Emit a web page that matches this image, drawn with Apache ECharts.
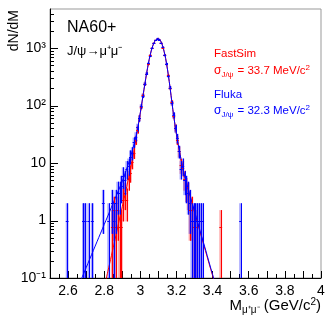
<!DOCTYPE html>
<html>
<head>
<meta charset="utf-8">
<script src="https://cdn.jsdelivr.net/npm/echarts@6/dist/echarts.min.js"></script>
<style>
  html, body { margin: 0; padding: 0; background: #fff; }
  #chart { width: 332px; height: 320px; }
</style>
</head>
<body>
<div id="chart"></div>
<script>
  // histogram bins, 10 MeV wide, given by their centre (GeV/c^2)
  const binWidth = 0.01;

  const flukaMass = [2.595, 2.685, 2.695, 2.715, 2.735, 2.795, 2.825, 2.845, 2.855, 2.865,
    2.875, 2.885, 2.895, 2.905, 2.915, 2.925, 2.935, 2.945, 2.955, 2.965, 2.975, 2.985, 2.995,
    3.005, 3.015, 3.025, 3.035, 3.045, 3.055, 3.065, 3.075, 3.085, 3.095, 3.105, 3.115, 3.125,
    3.135, 3.145, 3.155, 3.165, 3.175, 3.185, 3.195, 3.205, 3.215, 3.225, 3.235, 3.245, 3.255,
    3.265, 3.275, 3.285, 3.295, 3.305, 3.315, 3.325, 3.335, 3.345, 3.555];
  const flukaCounts = [1, 1, 1, 1, 1, 2, 1, 2, 1, 2,
    3, 3, 4, 6, 5, 8, 9, 13, 15, 23, 29, 42, 60,
    97, 148, 240, 362, 545, 742, 1010, 1225, 1390, 1470, 1405, 1230, 1030,
    750, 530, 325, 205, 110, 68, 40, 27, 16, 8, 9, 5, 4,
    3, 2, 1, 1, 1, 1, 1, 1, 1, 1];

  const fastSimMass = [2.845, 2.855, 2.865, 2.875, 2.885, 2.895, 2.905, 2.915, 2.925, 2.935,
    2.945, 2.955, 2.965, 2.975, 2.985, 2.995, 3.005, 3.015, 3.025, 3.035, 3.045, 3.055, 3.065,
    3.075, 3.085, 3.095, 3.105, 3.115, 3.125, 3.135, 3.145, 3.155, 3.165, 3.175, 3.185, 3.195,
    3.205, 3.215, 3.225, 3.235, 3.245, 3.255, 3.265, 3.275, 3.285, 3.295, 3.305, 3.445];
  const fastSimCounts = [1, 2, 1, 2, 1, 1, 3, 4, 3, 7,
    9, 14, 20, 33, 50, 80, 125, 200, 310, 470, 690, 985, 1310,
    1600, 1810, 1925, 1840, 1630, 1350, 995, 690, 440, 265, 150, 88, 54,
    33, 21, 12, 11, 7, 5, 4, 2, 2, 1, 1, 1];
  const fastSimScale = 0.76; // FastSim normalised to the Fluka yield

  // fitted line shapes
  const flukaFitX = [2.66, 2.68, 2.70, 2.72, 2.74, 2.76, 2.78, 2.80, 2.82, 2.84, 2.86, 2.88,
    2.90, 2.92, 2.94, 2.96, 2.98, 3.00, 3.02, 3.04, 3.06, 3.08, 3.10, 3.12, 3.14, 3.16, 3.18,
    3.20, 3.22, 3.24, 3.26, 3.28, 3.30, 3.32, 3.34, 3.36, 3.38, 3.40, 3.42];
  const flukaFitY = [0.076, 0.107, 0.151, 0.214, 0.302, 0.427, 0.603, 0.851, 1.20, 1.70, 2.40, 3.39,
    4.79, 7.24, 11.2, 18.6, 33.1, 75.9, 191, 457, 891, 1318, 1479, 1175, 661, 263, 85,
    31.6, 14.1, 6.92, 3.98, 2.40, 1.45, 0.87, 0.52, 0.32, 0.19, 0.115, 0.069];

  const fastSimFitX = [2.80, 2.82, 2.84, 2.86, 2.88, 2.90, 2.92, 2.94, 2.96, 2.98, 3.00, 3.02,
    3.04, 3.06, 3.08, 3.10, 3.12, 3.14, 3.16, 3.18, 3.20, 3.22, 3.24, 3.26, 3.28, 3.30, 3.32,
    3.34, 3.36, 3.38, 3.40, 3.42];
  const fastSimFitY = [0.068, 0.129, 0.245, 0.468, 0.912, 1.74, 3.31, 6.61, 13.2, 31.6, 74.1, 186,
    447, 891, 1318, 1479, 1175, 661, 263, 85, 31.6, 14.1, 7.08, 3.98, 2.34, 1.38, 0.83,
    0.50, 0.30, 0.18, 0.11, 0.066];

  const yMajorTicks = [0.1, 1, 10, 100, 1000];
  const yMinorTicks = [0.2, 0.3, 0.4, 0.5, 0.6, 0.7, 0.8, 0.9,
    2, 3, 4, 5, 6, 7, 8, 9, 20, 30, 40, 50, 60, 70, 80, 90,
    200, 300, 400, 500, 600, 700, 800, 900, 2000, 3000, 4000];
  const yLabels = { 0.1: '10⁻¹', 1: '1', 10: '10', 100: '10²', 1000: '10³' };

  const font = 'Liberation Sans';

  function points(mass, counts, scale) {
    return mass.map((m, i) => {
      const n = counts[i];
      const e = Math.sqrt(n) * scale;
      return [m, n * scale, Math.max(n * scale - e, 0.001), n * scale + e];
    });
  }
  const fluka = points(flukaMass, flukaCounts, 1);
  const fastSim = points(fastSimMass, fastSimCounts, fastSimScale);

  const px = v => Math.round(v) + 0.5;

  function errorBars(color) {
    return function (params, api) {
      const x = api.value(0), y = api.value(1);
      const top = api.coord([x, api.value(3)]);
      const bot = api.coord([x, api.value(2)]);
      const l = api.coord([x - binWidth / 2, y]);
      const r = api.coord([x + binWidth / 2, y]);
      return {
        type: 'group',
        children: [
          { type: 'line', shape: { x1: px(top[0]), y1: top[1], x2: px(bot[0]), y2: bot[1] },
            style: { stroke: color, lineWidth: 1 } },
          { type: 'line', shape: { x1: l[0] - 0.5, y1: px(l[1]), x2: r[0] + 0.5, y2: px(r[1]) },
            style: { stroke: color, lineWidth: 1 } }
        ]
      };
    };
  }

  function errorBoxes(color) {
    return function (params, api) {
      const x = api.value(0);
      const a = api.coord([x - binWidth / 2, api.value(3)]);
      const b = api.coord([x + binWidth / 2, api.value(2)]);
      return {
        type: 'rect',
        shape: { x: a[0] - 0.5, y: a[1], width: b[0] - a[0] + 1, height: b[1] - a[1] },
        style: { fill: color }
      };
    };
  }

  function yTicks(len) {
    return function (params, api) {
      const p = api.coord([2.5, api.value(0)]);
      return { type: 'line', shape: { x1: p[0], y1: px(p[1]), x2: p[0] + len, y2: px(p[1]) },
        style: { stroke: '#000', lineWidth: 1 } };
    };
  }

  const chart = echarts.init(document.getElementById('chart'), null, { renderer: 'canvas' });

  chart.setOption({
    animation: false,
    backgroundColor: '#fff',
    grid: { left: 50, right: 11, top: 9, bottom: 42, show: true, borderColor: '#999', borderWidth: 1 },
    xAxis: {
      type: 'value', min: 2.5, max: 4, interval: 0.1,
      axisLine: { lineStyle: { color: '#000', width: 1 } },
      axisTick: { inside: true, length: 7, lineStyle: { color: '#000' } },
      minorTick: { show: true, splitNumber: 2, length: 4, lineStyle: { color: '#000' } },
      splitLine: { show: false },
      axisLabel: {
        margin: 6, color: '#000', fontFamily: font, fontSize: 14,
        formatter: v => (Math.round(v * 10) % 2 === 0 ? String(+v.toFixed(1)) : '')
      }
    },
    yAxis: {
      type: 'log', logBase: 10, min: 0.1, max: 4800,
      axisLine: { lineStyle: { color: '#000', width: 1 } },
      axisTick: { show: false },
      splitLine: { show: false },
      axisLabel: {
        margin: 4, color: '#000', fontFamily: font, fontSize: 14,
        formatter: v => yLabels[+v.toPrecision(3)] || ''
      }
    },
    series: [
      { type: 'custom', clip: true, data: fastSim, renderItem: errorBoxes('rgba(255,0,0,0.35)'), z: 1 },
      { type: 'custom', clip: true, data: fluka, renderItem: errorBoxes('rgba(0,0,255,0.35)'), z: 1 },
      { type: 'line', data: fastSimFitX.map((x, i) => [x, fastSimFitY[i]]), showSymbol: false,
        smooth: 0.3, clip: true, lineStyle: { color: '#ff0000', width: 1 }, z: 2 },
      { type: 'line', data: flukaFitX.map((x, i) => [x, flukaFitY[i]]), showSymbol: false,
        smooth: 0.3, clip: true, lineStyle: { color: '#0000ff', width: 1 }, z: 2 },
      { type: 'custom', clip: true, data: fastSim, renderItem: errorBars('#ff0000'), z: 3 },
      { type: 'custom', clip: true, data: fluka, renderItem: errorBars('#0000ff'), z: 3 },
      { type: 'custom', data: yMajorTicks.map(v => [v]), renderItem: yTicks(8), z: 4 },
      { type: 'custom', data: yMinorTicks.map(v => [v]), renderItem: yTicks(4), z: 4 }
    ],
    graphic: [
      { type: 'text', x: 14, y: 10, rotation: Math.PI / 2,
        style: { text: 'dN/dM', font: '14px ' + font, fill: '#000', align: 'right', verticalAlign: 'middle' } },
      { type: 'text', x: 67, y: 28,
        style: { text: 'NA60+', font: '16px ' + font, fill: '#000', verticalAlign: 'middle' } },
      { type: 'text', x: 67, y: 51,
        style: { text: 'J/ψ→μ⁺μ⁻', font: '13px ' + font, fill: '#000', verticalAlign: 'middle' } },
      { type: 'text', x: 214, y: 54,
        style: { text: 'FastSim', font: '11.5px ' + font, fill: '#ff0000', verticalAlign: 'middle' } },
      { type: 'text', x: 214, y: 71,
        style: {
          text: '{s|σ}{sub|J/ψ}{n| = 33.7 MeV/c}{sup|2}', fill: '#ff0000', verticalAlign: 'middle',
          rich: {
            s: { fontFamily: font, fontSize: 12, fill: '#ff0000' },
            sub: { fontFamily: font, fontSize: 8, fill: '#ff0000', padding: [7, 1, 0, 0] },
            n: { fontFamily: font, fontSize: 11.5, fill: '#ff0000' },
            sup: { fontFamily: font, fontSize: 8, fill: '#ff0000', padding: [0, 0, 7, 0] }
          }
        } },
      { type: 'text', x: 214, y: 95,
        style: { text: 'Fluka', font: '11.5px ' + font, fill: '#0000ff', verticalAlign: 'middle' } },
      { type: 'text', x: 214, y: 111,
        style: {
          text: '{s|σ}{sub|J/ψ}{n| = 32.3 MeV/c}{sup|2}', fill: '#0000ff', verticalAlign: 'middle',
          rich: {
            s: { fontFamily: font, fontSize: 12, fill: '#0000ff' },
            sub: { fontFamily: font, fontSize: 8, fill: '#0000ff', padding: [7, 1, 0, 0] },
            n: { fontFamily: font, fontSize: 11.5, fill: '#0000ff' },
            sup: { fontFamily: font, fontSize: 8, fill: '#0000ff', padding: [0, 0, 7, 0] }
          }
        } },
      { type: 'text', x: 321, y: 306,
        style: {
          text: '{m|M}{sub|μ⁺μ⁻}{n| (GeV/c}{sup|2}{n|)}', fill: '#000', align: 'right', verticalAlign: 'middle',
          rich: {
            m: { fontFamily: font, fontSize: 15, fill: '#000' },
            sub: { fontFamily: font, fontSize: 10, fill: '#000', padding: [8, 0, 0, 0] },
            n: { fontFamily: font, fontSize: 15, fill: '#000' },
            sup: { fontFamily: font, fontSize: 10, fill: '#000', padding: [0, 0, 8, 0] }
          }
        } }
    ]
  });

  window.addEventListener('resize', chart.resize);
</script>
</body>
</html>
